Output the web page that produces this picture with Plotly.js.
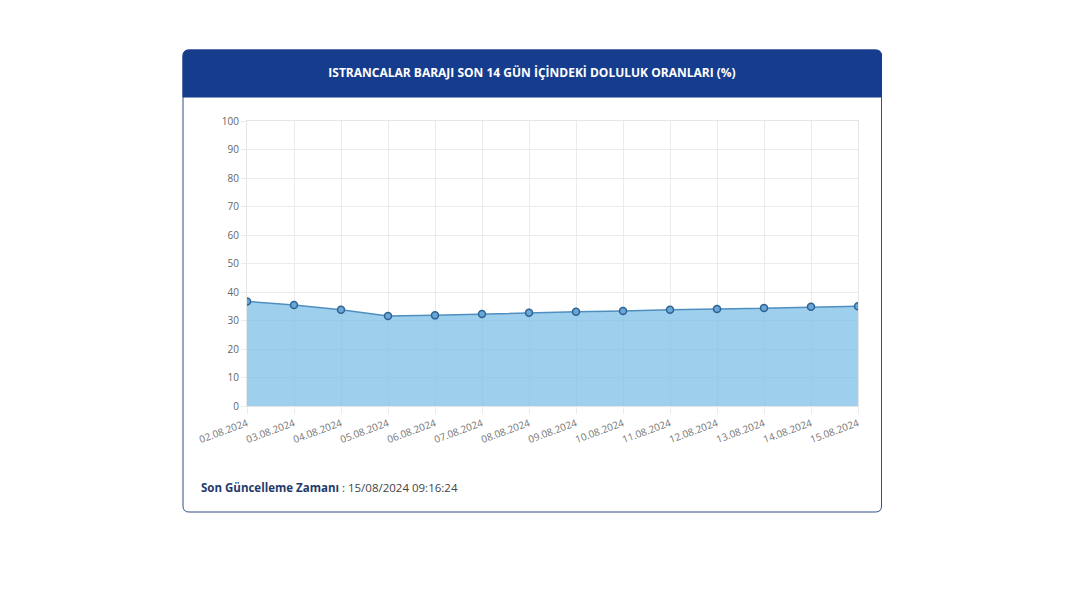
<!DOCTYPE html>
<html><head><meta charset="utf-8">
<script src="https://cdn.plot.ly/plotly-3.0.1.min.js"></script>
<style>html,body{margin:0;padding:0;background:#fff;}#chart{width:1068px;height:601px;}</style>
</head><body><div id="chart"></div>
<script>
const dates = ["02.08.2024","03.08.2024","04.08.2024","05.08.2024","06.08.2024","07.08.2024","08.08.2024","09.08.2024","10.08.2024","11.08.2024","12.08.2024","13.08.2024","14.08.2024","15.08.2024"];
const fillRates = [36.7, 35.4, 33.8, 31.6, 31.8, 32.3, 32.7, 33.1, 33.3, 33.8, 34.0, 34.4, 34.8, 35.0];
const yTicks = [0,10,20,30,40,50,60,70,80,90,100];
const chartTitle = "ISTRANCALAR BARAJI SON 14 GÜN İÇİNDEKİ DOLULUK ORANLARI (%)";
const updateLabel = "Son Güncelleme Zamanı";
const updateTime = "15/08/2024 09:16:24";

const W = 1068, H = 601;
const L = 247, R = 858, T = 121, B = 406;
const px = x => (x - L) / (R - L);
const py = y => (B - y) / (B - T);

function roundRect(x0, y0, x1, y1, r, topOnly) {
  const rx = r / (R - L), ry = r / (B - T);
  const a = px(x0), b = px(x1), top = py(y0), bot = py(y1);
  if (topOnly) {
    return `M${a},${bot} L${a},${top - ry} Q${a},${top} ${a + rx},${top} L${b - rx},${top} Q${b},${top} ${b},${top - ry} L${b},${bot} Z`;
  }
  return `M${a + rx},${bot} L${b - rx},${bot} Q${b},${bot} ${b},${bot + ry} L${b},${top - ry} Q${b},${top} ${b - rx},${top} L${a + rx},${top} Q${a},${top} ${a},${top - ry} L${a},${bot + ry} Q${a},${bot} ${a + rx},${bot} Z`;
}

const trace = {
  x: dates, y: fillRates, type: 'scatter', mode: 'lines+markers',
  fill: 'tozeroy', fillcolor: 'rgba(120,190,232,0.72)',
  line: {color: '#4f8fc0', width: 1.5},
  marker: {size: 7, color: '#6aa6d6', line: {color: '#2d6493', width: 1.5}},
  hoverinfo: 'x+y'
};

const layout = {
  width: W, height: H,
  margin: {l: L, r: W - R, t: T, b: H - B},
  paper_bgcolor: '#ffffff', plot_bgcolor: 'rgba(0,0,0,0)',
  showlegend: false,
  font: {family: 'Open Sans, sans-serif'},
  xaxis: {
    type: 'category', range: [0, dates.length - 1],
    showgrid: true, gridcolor: '#ebebeb', gridwidth: 1,
    showline: true, linecolor: '#e6e6e6', mirror: true,
    ticks: 'outside', ticklen: 7, tickcolor: '#ebebeb',
    tickangle: -20, tickfont: {size: 10, color: '#777', family: 'Open Sans, sans-serif'},
    zeroline: false, fixedrange: true
  },
  yaxis: {
    range: [0, 100], tickvals: yTicks, ticktext: yTicks.map(String),
    showgrid: true, gridcolor: '#ebebeb', gridwidth: 1,
    showline: true, linecolor: '#e6e6e6', mirror: true,
    ticks: 'outside', ticklen: 5, tickcolor: '#ebebeb',
    tickfont: {size: 10, color: '#666', family: 'Open Sans, sans-serif'},
    zeroline: false, fixedrange: true
  },
  title: {
    text: '<b>' + chartTitle + '</b>',
    font: {size: 12, color: '#ffffff', family: 'Open Sans, sans-serif'},
    x: 532 / W, xanchor: 'center', xref: 'container',
    y: 1 - 73 / H, yanchor: 'middle', yref: 'container'
  },
  shapes: [
    {type: 'path', xref: 'paper', yref: 'paper', path: roundRect(183, 50, 881.5, 512, 6, false),
     fillcolor: '#ffffff', line: {color: '#2f4f86', width: 1}, layer: 'below'},
    {type: 'path', xref: 'paper', yref: 'paper', path: roundRect(183, 50, 881.5, 97, 6, true),
     fillcolor: '#163d8d', line: {color: '#163d8d', width: 1}, layer: 'below'}
  ],
  annotations: [
    {xref: 'paper', yref: 'paper', x: px(199), y: py(487), xanchor: 'left', yanchor: 'middle',
     showarrow: false, align: 'left',
     text: '<b>' + updateLabel + '</b><span style="color:#444"> : ' + updateTime + '</span>',
     font: {size: 11.5, color: '#1f3a6b', family: 'Open Sans, sans-serif'}}
  ]
};

Plotly.newPlot('chart', [trace], layout, {displayModeBar: false, responsive: false});
</script></body></html>
